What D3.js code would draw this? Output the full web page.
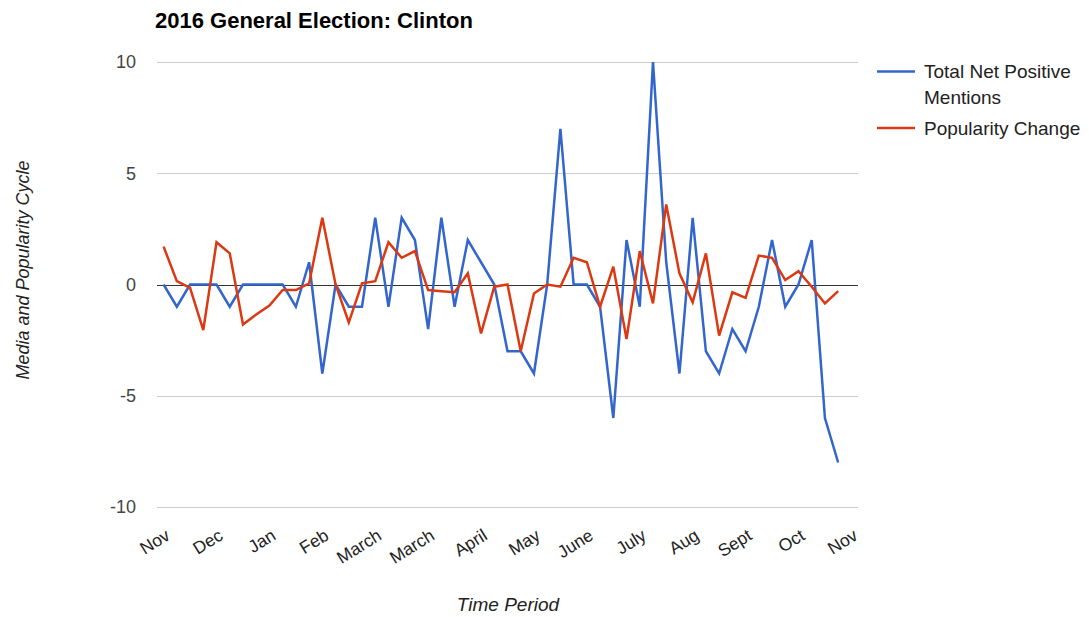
<!DOCTYPE html>
<html>
<head>
<meta charset="utf-8">
<script src="https://cdn.jsdelivr.net/npm/d3@7"></script>
<style>
  html, body { margin: 0; padding: 0; background: #fff; }
  svg { display: block; font-family: "Liberation Sans", Arial, sans-serif; }
</style>
</head>
<body>
<svg id="chart" width="1089" height="617"></svg>
<script>
// Weekly periods, Nov 2015 through Nov 2016 (one label every fourth week)
const periodLabels = ["Nov", "Dec", "Jan", "Feb", "March", "March", "April",
                      "May", "June", "July", "Aug", "Sept", "Oct", "Nov"];
const weeksPerLabel = 4;
const weekCount = 53;

// Total net positive media mentions per week
const netMentions = [
  0, -1, 0, 0, 0, -1, 0, 0, 0, 0,
  -1, 1, -4, 0, -1, -1, 3, -1, 3, 2,
  -2, 3, -1, 2, 1, 0, -3, -3, -4, 0,
  7, 0, 0, -1, -6, 2, -1, 10, 1, -4,
  3, -3, -4, -2, -3, -1, 2, -1, 0, 2,
  -6, -8, null
];

// Weekly change in popularity
const popularityChange = [
  1.7, 0.15, -0.15, -2.05, 1.9, 1.4, -1.8, -1.35, -0.95, -0.25,
  -0.25, 0.05, 3, 0, -1.7, 0.05, 0.15, 1.9, 1.2, 1.5,
  -0.25, -0.3, -0.35, 0.5, -2.2, -0.1, 0, -3, -0.4, 0,
  -0.1, 1.2, 1, -1, 0.8, -2.45, 1.5, -0.85, 3.6, 0.5,
  -0.8, 1.4, -2.3, -0.35, -0.6, 1.3, 1.2, 0.2, 0.6, -0.1,
  -0.85, -0.3, null
];

const yTicks = [-10, -5, 0, 5, 10];

const seriesNames = ["Total Net Positive Mentions", "Popularity Change"];
const seriesColors = ["#3366cc", "#dc3912"];

const svg = d3.select("#chart");
const plot = { left: 157, right: 858, top: 62, bottom: 507 };

const weeks = d3.range(weekCount);
const x = d3.scaleBand().domain(weeks).range([plot.left, plot.right]);
const cx = i => x(i) + x.bandwidth() / 2;
const y = d3.scaleLinear().domain([-10, 10]).range([plot.bottom, plot.top]);

// Title
svg.append("text")
  .attr("x", 155).attr("y", 28)
  .attr("font-size", 22).attr("font-weight", "bold").attr("fill", "#000")
  .text("2016 General Election: Clinton");

// Horizontal gridlines
svg.append("g")
  .selectAll("line")
  .data(yTicks.filter(d => d !== 0))
  .join("line")
  .attr("x1", plot.left).attr("x2", plot.right)
  .attr("y1", d => Math.round(y(d)) + 0.5).attr("y2", d => Math.round(y(d)) + 0.5)
  .attr("stroke", "#cccccc").attr("stroke-width", 1);

// Y axis labels
const yAxis = svg.append("g")
  .attr("transform", `translate(${plot.left - 21},0)`)
  .call(d3.axisLeft(y).tickValues(yTicks).tickSize(0).tickPadding(0)
        .tickFormat(d => String(d)));
yAxis.select(".domain").remove();
yAxis.selectAll("text")
  .attr("font-size", 18).attr("fill", "#444").attr("font-family", "Liberation Sans, Arial, sans-serif");

// Y axis title
svg.append("text")
  .attr("transform", `translate(29,270) rotate(-90)`)
  .attr("text-anchor", "middle")
  .attr("font-size", 18).attr("font-style", "italic").attr("fill", "#222")
  .text("Media and Popularity Cycle");

// X axis labels, one every fourth week, rotated
const labelWeeks = periodLabels.map((_, k) => k * weeksPerLabel);
const xAxis = svg.append("g")
  .attr("transform", `translate(0,528)`)
  .call(d3.axisBottom(x).tickValues(labelWeeks).tickSize(0).tickPadding(0)
        .tickFormat(d => periodLabels[d / weeksPerLabel]));
xAxis.select(".domain").remove();
xAxis.selectAll("text")
  .attr("font-size", 17.5).attr("fill", "#222").attr("font-family", "Liberation Sans, Arial, sans-serif")
  .attr("text-anchor", "end").attr("y", 0).attr("dy", "0.71em")
  .attr("transform", "translate(1,0) rotate(-32)");

// X axis title
svg.append("text")
  .attr("x", 508).attr("y", 611)
  .attr("text-anchor", "middle")
  .attr("font-size", 19).attr("font-style", "italic").attr("fill", "#222")
  .text("Time Period");

// Zero baseline
svg.append("line")
  .attr("x1", plot.left).attr("x2", plot.right)
  .attr("y1", Math.round(y(0)) + 0.5).attr("y2", Math.round(y(0)) + 0.5)
  .attr("stroke", "#333").attr("stroke-width", 1);

// Series lines
const line = d3.line()
  .defined(d => d != null)
  .x((d, i) => cx(i))
  .y(d => y(d));

[netMentions, popularityChange].forEach((values, s) => {
  svg.append("path")
    .datum(values)
    .attr("fill", "none")
    .attr("stroke", seriesColors[s])
    .attr("stroke-width", 2.5)
    .attr("stroke-linejoin", "miter")
    .attr("d", line);
});

// Legend
const legend = svg.append("g").attr("font-size", 19).attr("fill", "#222");
const legendRows = [
  { lines: ["Total Net Positive", "Mentions"], lineY: 71.5, textY: 78 },
  { lines: ["Popularity Change"], lineY: 128, textY: 135 }
];
legendRows.forEach((row, s) => {
  legend.append("line")
    .attr("x1", 877).attr("x2", 915)
    .attr("y1", row.lineY).attr("y2", row.lineY)
    .attr("stroke", seriesColors[s]).attr("stroke-width", 2.5);
  const t = legend.append("text").attr("x", 924).attr("y", row.textY).attr("fill", "#222");
  row.lines.forEach((ln, j) => {
    t.append("tspan").attr("x", 924).attr("y", row.textY + j * 25.5).text(ln);
  });
});
</script>
</body>
</html>
